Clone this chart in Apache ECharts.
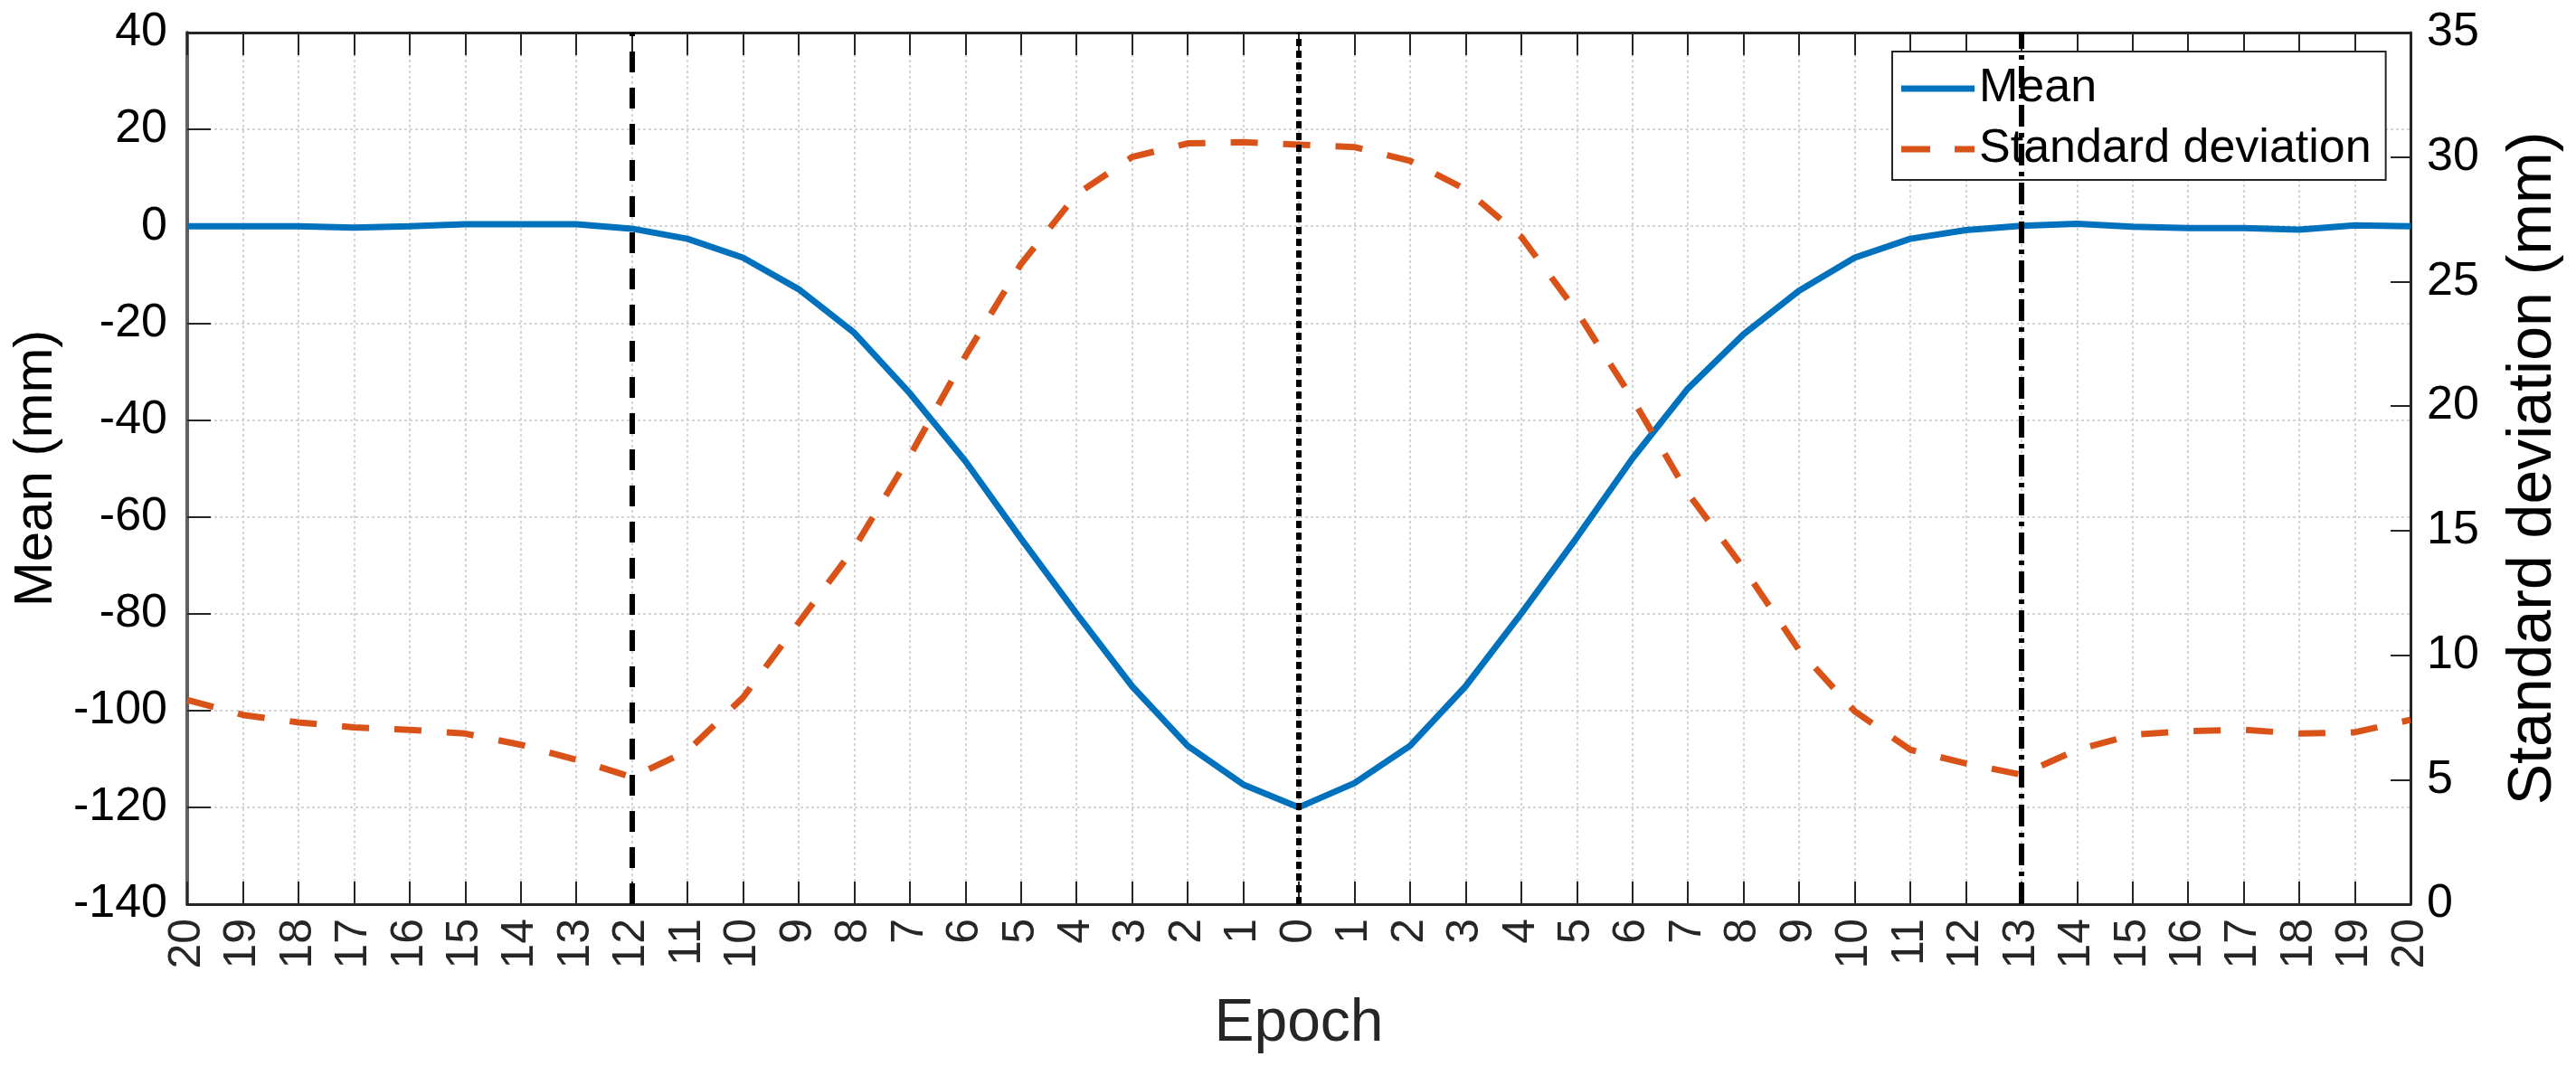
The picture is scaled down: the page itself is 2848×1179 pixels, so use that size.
<!DOCTYPE html>
<html>
<head>
<meta charset="utf-8">
<script src="https://cdn.jsdelivr.net/npm/echarts/dist/echarts.min.js"></script>
<style>
  html, body { margin: 0; padding: 0; background: #fff; }
  #chart { width: 2848px; height: 1179px; }
</style>
</head>
<body>
<div id="chart"></div>
<script>
// epoch tick labels: 20 epochs before, 0, 20 epochs after
var epochLabels = ['20','19','18','17','16','15','14','13','12','11','10','9','8','7','6','5','4','3','2','1',
  '0','1','2','3','4','5','6','7','8','9','10','11','12','13','14','15','16','17','18','19','20'];

// mean (mm), left axis
var meanValues = [0, 0, 0, -0.3, 0, 0.4, 0.4, 0.4, -0.5, -2.6, -6.5, -13, -22, -34.5, -48.5, -64.5, -80, -95, -107.3, -115.3,
  -120, -115, -107.3, -95, -80, -64.3, -48, -33.5, -22.3, -13.3, -6.5, -2.6, -0.8, 0.1, 0.5, -0.1, -0.4, -0.4, -0.7, 0.2, 0];

// standard deviation (mm), right axis
var stdValues = [8.2, 7.6, 7.3, 7.1, 7.0, 6.85, 6.4, 5.8, 5.1, 6.15, 8.3, 11.3, 14.3, 18.0, 22.0, 25.7, 28.5, 30.0, 30.55, 30.6,
  30.5, 30.4, 29.85, 28.7, 26.8, 23.8, 20.3, 16.5, 13.5, 10.2, 7.75, 6.2, 5.65, 5.2, 6.2, 6.8, 6.95, 7.0, 6.85, 6.9, 7.4];

// vertical marker positions (category index)
var markerStart = 8;   // epoch 12 before
var markerZero = 20;   // epoch 0
var markerEnd = 33;    // epoch 13 after

var font = 'Liberation Sans, Arial, Helvetica, sans-serif';
var txt = '#262626';

var chart = echarts.init(document.getElementById('chart'));
chart.setOption({
  animation: false,
  backgroundColor: '#fff',
  grid: { left: 207, right: 183, top: 36, bottom: 179, containLabel: false },
  legend: {
    left: 2092, top: 57,
    orient: 'vertical',
    itemWidth: 81, itemHeight: 7, itemGap: 15,
    padding: [15, 16, 8, 10],
    backgroundColor: '#fff',
    borderColor: '#262626', borderWidth: 2,
    textStyle: { fontFamily: font, fontSize: 52, color: '#000' },
    data: [
      { name: 'Mean', icon: 'path://M0,0h81v7h-81z' },
      { name: 'Standard deviation', icon: 'path://M0,0h32v7h-32z M59,0h22v7h-22z' }
    ]
  },
  xAxis: [{
    type: 'category',
    data: epochLabels,
    boundaryGap: false,
    name: 'Epoch',
    nameLocation: 'middle',
    nameGap: 100,
    nameTextStyle: { fontFamily: font, fontSize: 66, color: txt },
    axisLine: { onZero: false, lineStyle: { color: txt, width: 3 } },
    axisTick: { inside: true, length: 25, interval: 0, lineStyle: { color: txt, width: 2 } },
    axisLabel: { interval: 0, rotate: 90, margin: 16, fontFamily: font, fontSize: 50, color: txt },
    splitLine: { show: true, interval: 0, lineStyle: { color: '#d4d4d4', width: 2, type: [3, 3] } }
  }, {
    type: 'category',
    data: epochLabels,
    boundaryGap: false,
    position: 'top',
    axisLine: { onZero: false, lineStyle: { color: txt, width: 3 } },
    axisTick: { inside: true, length: 25, interval: 0, lineStyle: { color: txt, width: 2 } },
    axisLabel: { show: false },
    splitLine: { show: false }
  }],
  yAxis: [{
    type: 'value',
    min: -140, max: 40, interval: 20,
    name: 'Mean (mm)',
    nameLocation: 'middle',
    nameRotate: 90,
    nameGap: 124,
    nameTextStyle: { fontFamily: font, fontSize: 60, color: '#000' },
    axisLine: { show: true, onZero: false, lineStyle: { color: '#606060', width: 4 } },
    axisTick: { show: true, inside: true, length: 26, lineStyle: { color: txt, width: 2 } },
    axisLabel: { margin: 22, fontFamily: font, fontSize: 52, color: '#000' },
    splitLine: { show: true, lineStyle: { color: '#d4d4d4', width: 2, type: [3, 3] } }
  }, {
    type: 'value',
    position: 'right',
    min: 0, max: 35, interval: 5,
    name: 'Standard deviation (mm)',
    nameLocation: 'middle',
    nameRotate: 90,
    nameGap: 102,
    nameTextStyle: { fontFamily: font, fontSize: 68, color: '#000' },
    axisLine: { show: true, onZero: false, lineStyle: { color: txt, width: 3 } },
    axisTick: { show: true, inside: true, length: 22, lineStyle: { color: txt, width: 2 } },
    axisLabel: { margin: 18, fontFamily: font, fontSize: 52, color: '#000' },
    splitLine: { show: false }
  }],
  series: [{
    name: 'Mean',
    type: 'line',
    xAxisIndex: 0, yAxisIndex: 0,
    data: meanValues,
    symbol: 'none',
    lineStyle: { color: '#0072BD', width: 7 },
    itemStyle: { color: '#0072BD' },
    z: 3,
    markLine: {
      silent: true,
      symbol: ['none', 'none'],
      label: { show: false },
      data: [
        { xAxis: markerStart, lineStyle: { color: '#000', width: 6, type: [23, 17] } },
        { xAxis: markerZero, lineStyle: { color: '#000', width: 6, type: [8, 5] } },
        { xAxis: markerEnd, lineStyle: { color: '#000', width: 6, type: [24, 7, 5, 7] } }
      ]
    }
  }, {
    name: 'Standard deviation',
    type: 'line',
    xAxisIndex: 0, yAxisIndex: 1,
    data: stdValues,
    symbol: 'none',
    lineStyle: { color: '#D95319', width: 7, type: [30, 28] },
    itemStyle: { color: '#D95319' },
    z: 3
  }]
});
</script>
</body>
</html>
